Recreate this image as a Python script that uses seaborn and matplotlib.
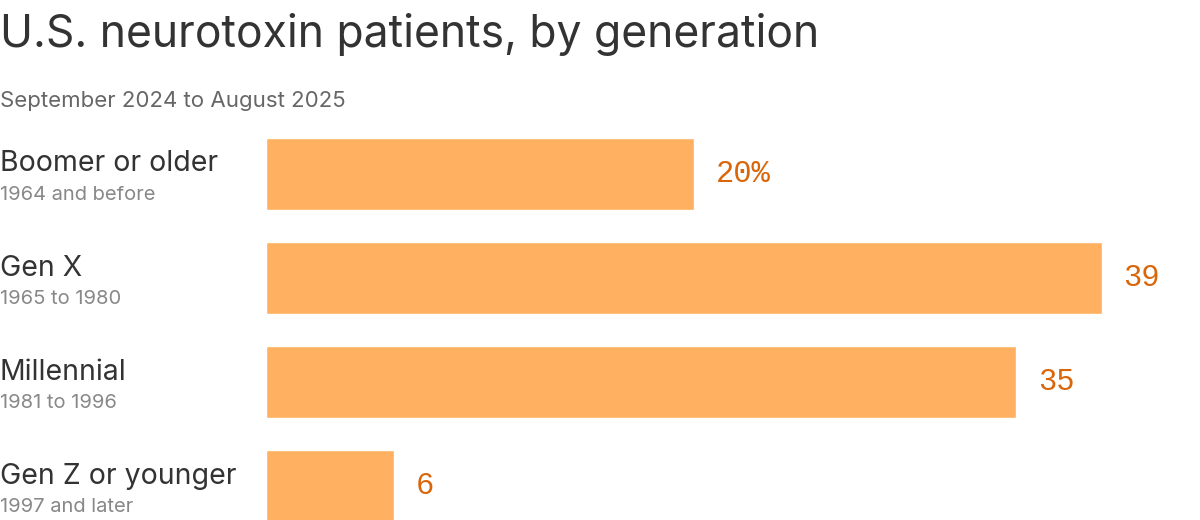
import matplotlib
matplotlib.use("Agg")
import matplotlib.pyplot as plt
import seaborn as sns
import pandas as pd

categories = ["Boomer or older", "Gen X", "Millennial", "Gen Z or younger"]
sublabels = ["1964 and before", "1965 to 1980", "1981 to 1996", "1997 and later"]
values = [20, 39, 35, 6]
value_labels = ["20%", "39", "35", "6"]

sns.set_theme(style="white")
plt.rcParams['font.family'] = ['Inter', 'DejaVu Sans']

df = pd.DataFrame({"gen": categories, "pct": values})

W, H = 1200, 520
fig = plt.figure(figsize=(W / 100, H / 100), dpi=100)
left_px, top_px = 265.5, 122
ax = fig.add_axes([left_px / W, 0, (W - left_px) / W, (H - top_px) / H])

sns.barplot(data=df, x="pct", y="gen", orient="h", color="#ffb060",
            saturation=1, width=0.692, ax=ax)

scale = (1102 - 266) / 39.0
ax.set_xlim(0, (W - left_px) / scale)
ax.set_ylim(3 + (520 - 486) / 104, -0.5)
ax.axis("off")

for i, (v, lab) in enumerate(zip(values, value_labels)):
    ax.annotate(lab, xy=(v, i), xytext=(22, 0), textcoords="offset pixels",
                ha="left", va="center", fontsize=22, color="#d9660a",
                family=["Liberation Mono", "DejaVu Sans Mono"])

for i, (c, s) in enumerate(zip(categories, sublabels)):
    yc = 1 - (174 + 104 * i) / H
    fig.text(0, yc + 10 / H, c, ha="left", va="center", fontsize=20.5, color="#333333")
    fig.text(0, yc - 21 / H, s, ha="left", va="center", fontsize=14.5, color="#888888")

fig.text(0, 1 - 34 / H, "U.S. neurotoxin patients, by generation", ha="left",
         va="center", fontsize=32, color="#333333")
fig.text(0, 1 - 101 / H, "September 2024 to August 2025", ha="left",
         va="center", fontsize=16, color="#666666")

fig.savefig("out.png", dpi=100)
